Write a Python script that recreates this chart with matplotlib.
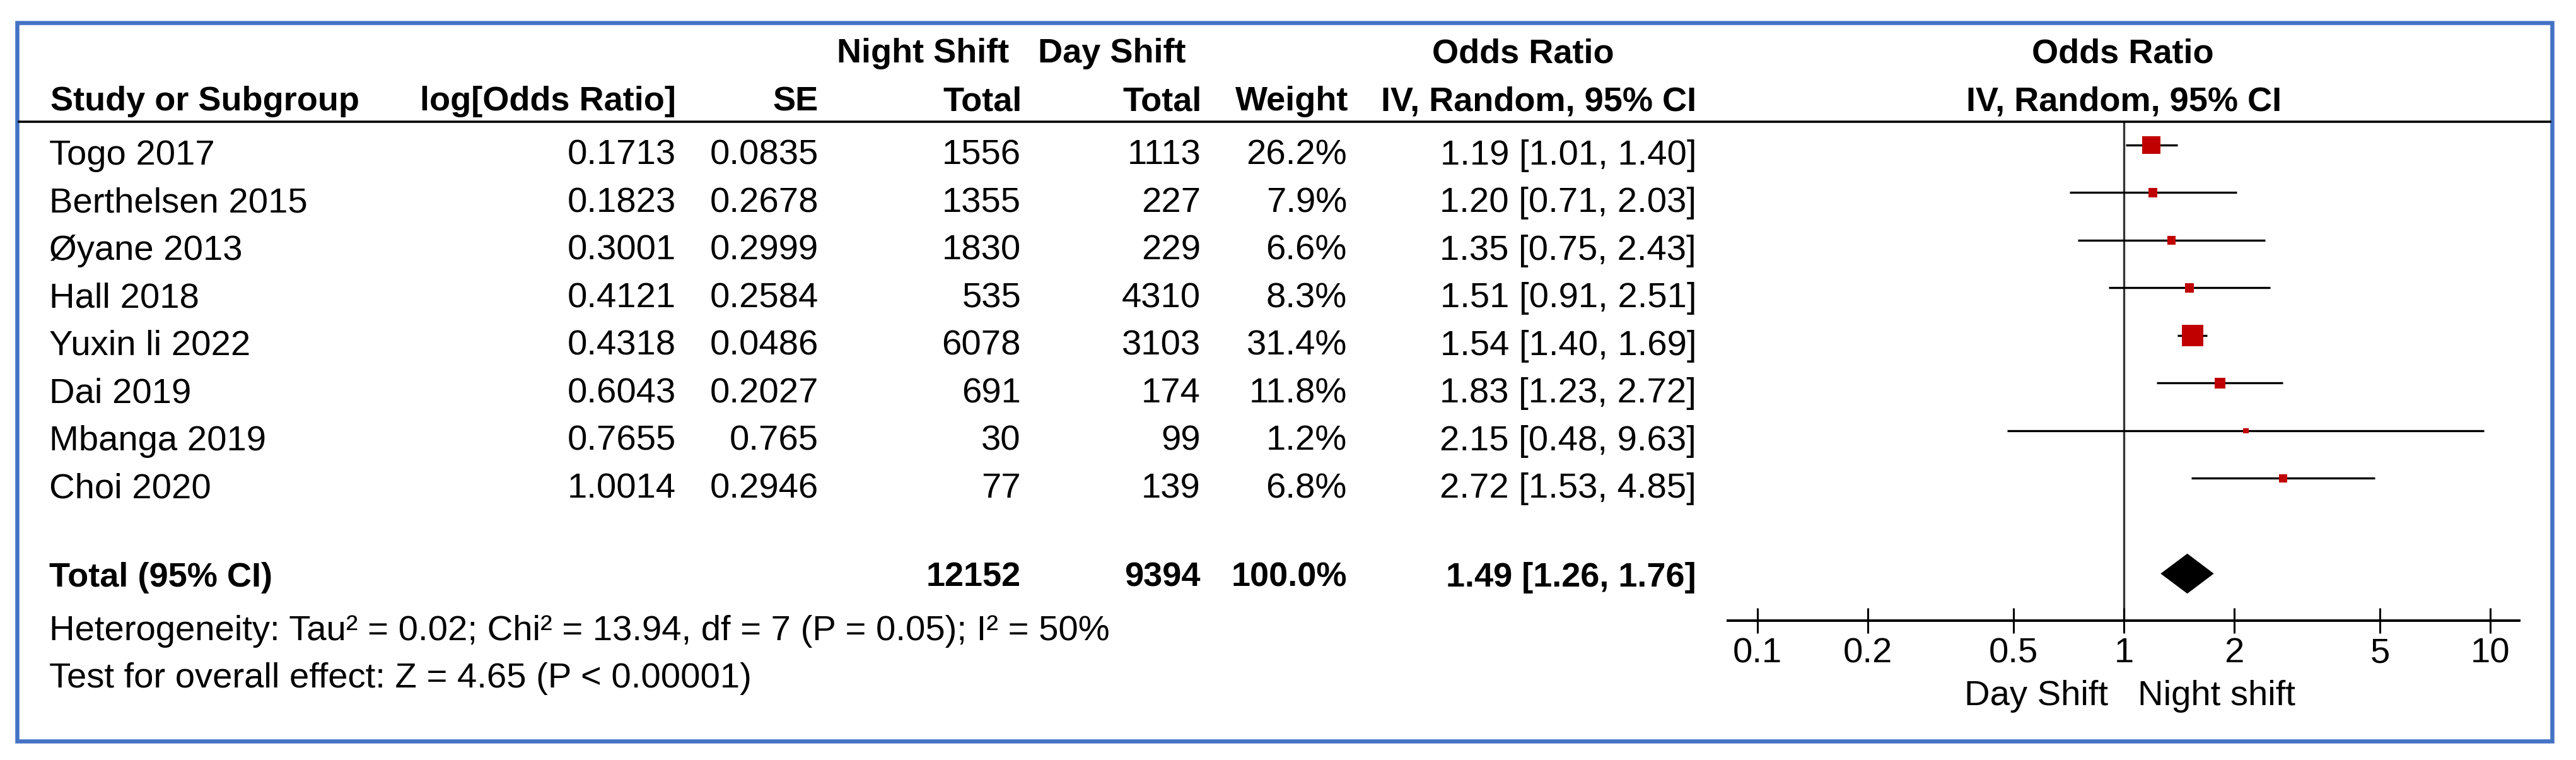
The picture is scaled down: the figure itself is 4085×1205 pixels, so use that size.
import matplotlib
matplotlib.use("Agg")
import matplotlib.pyplot as plt
import matplotlib.transforms as mtransforms
from matplotlib.lines import Line2D
from matplotlib.patches import Rectangle
import numpy as np

plt.rcParams["font.family"] = ["Liberation Sans", "DejaVu Sans"]

studies = [
    "Togo 2017",
    "Berthelsen 2015",
    "Øyane 2013",
    "Hall 2018",
    "Yuxin li 2022",
    "Dai 2019",
    "Mbanga 2019",
    "Choi 2020",
]
log_or = [0.1713, 0.1823, 0.3001, 0.4121, 0.4318, 0.6043, 0.7655, 1.0014]
se = [0.0835, 0.2678, 0.2999, 0.2584, 0.0486, 0.2027, 0.765, 0.2946]
night_total = [1556, 1355, 1830, 535, 6078, 691, 30, 77]
day_total = [1113, 227, 229, 4310, 3103, 174, 99, 139]
weight = [26.2, 7.9, 6.6, 8.3, 31.4, 11.8, 1.2, 6.8]
odds = [1.19, 1.20, 1.35, 1.51, 1.54, 1.83, 2.15, 2.72]
ci_low = [1.01, 0.71, 0.75, 0.91, 1.40, 1.23, 0.48, 1.53]
ci_high = [1.40, 2.03, 2.43, 2.51, 1.69, 2.72, 9.63, 4.85]

total_night = 12152
total_day = 9394
total_weight = 100.0
total_or = 1.49
total_low = 1.26
total_high = 1.76

heterogeneity = "Heterogeneity: Tau² = 0.02; Chi² = 13.94, df = 7 (P = 0.05); I² = 50%"
overall = "Test for overall effect: Z = 4.65 (P < 0.00001)"

x_ticks = [0.1, 0.2, 0.5, 1, 2, 5, 10]
x_tick_labels = ["0.1", "0.2", "0.5", "1", "2", "5", "10"]

W, H = 4085, 1205
FS = 40.5
FSB = 39
BLUE = "#4472C4"
RED = "#C00000"


def fx(px):
    return px / W


def fy(py):
    return 1 - py / H


def main():
    fig = plt.figure(figsize=(W / 100, H / 100), dpi=100)

    # forest panel
    ax = fig.add_axes([fx(2740), fy(984), (3995 - 2740) / W, (984 - 193) / H])
    ax.set_xscale("log")
    ax.set_xlim(0.083, 12.0)
    ax.set_ylim(9.987, -0.49)
    for side in ["left", "right", "top"]:
        ax.spines[side].set_visible(False)
    ax.spines["bottom"].set_linewidth(2.9)
    ax.set_yticks([])
    ax.set_xticks(x_ticks)
    ax.set_xticklabels(x_tick_labels)
    ax.xaxis.set_minor_locator(matplotlib.ticker.NullLocator())
    ax.tick_params(axis="x", direction="inout", length=29.5, width=2.2,
                   labelsize=FS, pad=4.3)
    ax.patch.set_alpha(0)

    rows = np.arange(len(studies))
    ax.axvline(1, color="#333333", lw=2.4, zorder=1)
    ax.hlines(rows, ci_low, ci_high, color="black", lw=2.4, zorder=2)
    sizes = [((8 + 0.8 * w) * 0.72) ** 2 for w in weight]
    ax.scatter(odds, rows, s=sizes, marker="s", color=RED, linewidths=0, zorder=3)

    total_row = 9
    h = 0.42
    ax.fill([total_low, total_or, total_high, total_or],
            [total_row, total_row - h, total_row, total_row + h],
            color="black", lw=0, zorder=3)

    # table text, x in figure pixels, y in row units
    tr = mtransforms.blended_transform_factory(fig.transFigure, ax.transData)

    def cell(x, row, s, ha="right", bold=False):
        fig.text(fx(x), row, s, transform=tr, ha=ha, va="baseline",
                 fontsize=FSB if bold else FS,
                 fontweight="bold" if bold else "normal")

    for i in range(len(studies)):
        r = i + 0.41
        cell(78, r, studies[i], ha="left")
        cell(1072, r, str(log_or[i]))
        cell(1298, r, str(se[i]))
        cell(1619, r, str(night_total[i]))
        cell(1904, r, str(day_total[i]))
        cell(2136, r, f"{weight[i]:.1f}%")
        cell(2690, r, f"{odds[i]:.2f} [{ci_low[i]:.2f}, {ci_high[i]:.2f}]")

    r = 9.27
    cell(78, r, "Total (95% CI)", ha="left", bold=True)
    cell(1619, r, str(total_night), bold=True)
    cell(1904, r, str(total_day), bold=True)
    cell(2136, r, f"{total_weight:.1f}%", bold=True)
    cell(2690, r, f"{total_or:.2f} [{total_low:.2f}, {total_high:.2f}]", bold=True)
    cell(78, 10.4, heterogeneity, ha="left")
    cell(78, 11.39, overall, ha="left")

    # headers
    def head(x, y, s, ha):
        fig.text(fx(x), fy(y), s, ha=ha, va="baseline", fontsize=FSB,
                 fontweight="bold")

    head(1464, 99, "Night Shift", "center")
    head(1763, 99, "Day Shift", "center")
    head(2415, 99, "Odds Ratio", "center")
    head(3366, 99, "Odds Ratio", "center")
    head(80, 175, "Study or Subgroup", "left")
    head(1072, 175, "log[Odds Ratio]", "right")
    head(1298, 175, "SE", "right")
    head(1621, 175, "Total", "right")
    head(1906, 175, "Total", "right")
    head(2138, 175, "Weight", "right")
    head(2690, 175, "IV, Random, 95% CI", "right")
    head(3368, 175, "IV, Random, 95% CI", "center")

    fig.add_artist(Line2D([fx(30), fx(4044)], [fy(193), fy(193)],
                          color="black", lw=2.6, transform=fig.transFigure))

    fig.text(fx(3343), fy(1118), "Day Shift", ha="right", va="baseline", fontsize=FS)
    fig.text(fx(3390), fy(1118), "Night shift", ha="left", va="baseline", fontsize=FS)

    # blue frame
    fig.add_artist(Rectangle((fx(26.5), fy(1174.5)), fx(4047 - 26.5), (1174.5 - 36) / H,
                             fill=False, edgecolor=BLUE, lw=4.7,
                             transform=fig.transFigure))

    fig.savefig("out.png", dpi=100, facecolor="white")


if __name__ == "__main__":
    main()
